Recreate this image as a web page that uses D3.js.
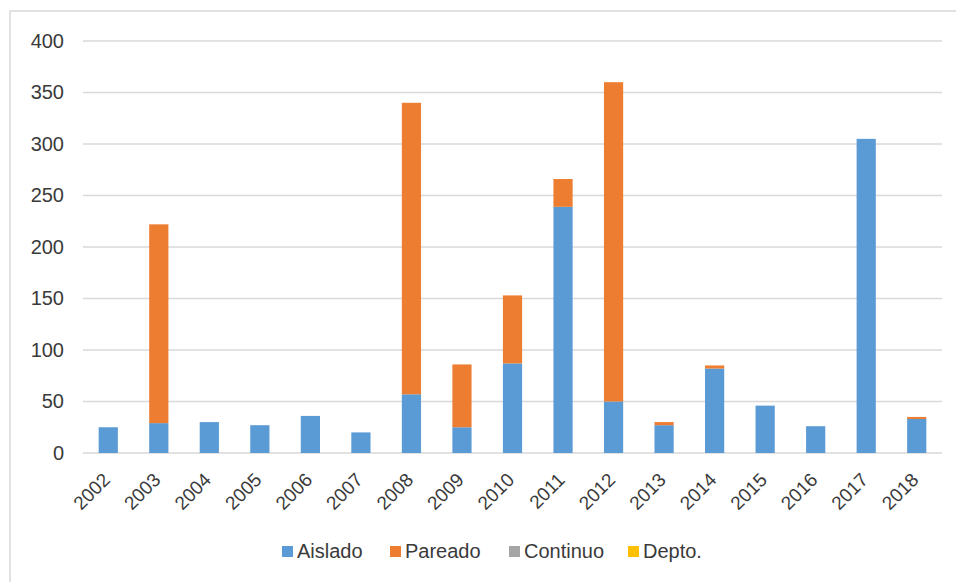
<!DOCTYPE html>
<html>
<head>
<meta charset="utf-8">
<script src="https://cdn.jsdelivr.net/npm/d3@7"></script>
<style>
  body { margin: 0; background: #fff; }
  svg { display: block; }
</style>
</head>
<body>
<svg id="chart"></svg>
<script>
// Data
const years = ["2002", "2003", "2004", "2005", "2006", "2007", "2008", "2009", "2010",
  "2011", "2012", "2013", "2014", "2015", "2016", "2017", "2018"];
const aislado  = [25, 29, 30, 27, 36, 20, 57, 25, 87, 239, 50, 27, 82, 46, 26, 305, 33];
const pareado  = [0, 193, 0, 0, 0, 0, 283, 61, 66, 27, 310, 3, 3, 0, 0, 0, 2];
const continuo = [0, 0, 0, 0, 0, 0, 0, 0, 0, 0, 0, 0, 0, 0, 0, 0, 0];
const depto    = [0, 0, 0, 0, 0, 0, 0, 0, 0, 0, 0, 0, 0, 0, 0, 0, 0];
const seriesNames = ["Aislado", "Pareado", "Continuo", "Depto."];
const yTicks = [0, 50, 100, 150, 200, 250, 300, 350, 400];

// Set dimensions
const width = 956;
const height = 582;
const margin = { top: 41, right: 14, bottom: 129, left: 83 };

const svg = d3.select("#chart")
  .attr("width", width)
  .attr("height", height);

// chart frame
svg.append("rect")
  .attr("x", 10)
  .attr("y", 11)
  .attr("width", width)
  .attr("height", height)
  .attr("fill", "none")
  .attr("stroke", "#d9d9d9")
  .attr("stroke-width", 1.5);

const table = years.map((y, i) => ({
  year: y,
  "Aislado": aislado[i],
  "Pareado": pareado[i],
  "Continuo": continuo[i],
  "Depto.": depto[i]
}));

const stack = d3.stack().keys(seriesNames);
const stacked = stack(table);

const x = d3.scaleBand()
  .domain(years)
  .range([margin.left, width - margin.right])
  .paddingInner(0.62)
  .paddingOuter(0.31);

const y = d3.scaleLinear()
  .domain([0, 400])
  .range([height - margin.bottom, margin.top]);

const color = d3.scaleOrdinal()
  .domain(seriesNames)
  .range(["#5b9bd5", "#ed7d31", "#a5a5a5", "#ffc000"]);

// Gridlines
svg.append("g")
  .selectAll("line")
  .data(yTicks)
  .enter()
  .append("line")
  .attr("x1", margin.left)
  .attr("x2", width - margin.right)
  .attr("y1", d => y(d))
  .attr("y2", d => y(d))
  .attr("stroke", "#d9d9d9")
  .attr("stroke-width", 1.5);

// Y axis labels
const yAxis = svg.append("g")
  .attr("transform", `translate(${margin.left - 19},0)`)
  .call(d3.axisLeft(y).tickValues(yTicks).tickSize(0).tickPadding(0));
yAxis.select(".domain").remove();
yAxis.selectAll("text")
  .style("font-family", "Liberation Sans, Arial, sans-serif")
  .style("font-size", "20px")
  .style("fill", "#3a3a3a");

// Bars
svg.append("g")
  .selectAll("g")
  .data(stacked)
  .enter()
  .append("g")
  .attr("fill", d => color(d.key))
  .selectAll("rect")
  .data(d => d)
  .enter()
  .append("rect")
  .attr("x", d => x(d.data.year))
  .attr("y", d => y(d[1]))
  .attr("width", x.bandwidth())
  .attr("height", d => y(d[0]) - y(d[1]));

// X axis labels, rotated
const xAxis = svg.append("g")
  .attr("transform", `translate(0,${height - margin.bottom})`)
  .call(d3.axisBottom(x).tickSize(0).tickPadding(0));
xAxis.select(".domain").remove();
xAxis.selectAll("text")
  .attr("text-anchor", "end")
  .attr("dy", null)
  .attr("y", 0)
  .attr("transform", "translate(3,28) rotate(-45)")
  .style("font-family", "Liberation Sans, Arial, sans-serif")
  .style("font-size", "19px")
  .style("fill", "#3a3a3a");

// Legend
const legendX = [282, 390, 509, 628];
const legend = svg.append("g")
  .selectAll("g")
  .data(seriesNames)
  .enter()
  .append("g")
  .attr("transform", (d, i) => `translate(${legendX[i]}, 551)`);

legend.append("rect")
  .attr("x", 0)
  .attr("y", -5)
  .attr("width", 11)
  .attr("height", 11)
  .attr("fill", d => color(d));

legend.append("text")
  .attr("x", 15)
  .attr("dy", "0.35em")
  .style("font-family", "Liberation Sans, Arial, sans-serif")
  .style("font-size", "20px")
  .style("fill", "#3a3a3a")
  .text(d => d);
</script>
</body>
</html>
